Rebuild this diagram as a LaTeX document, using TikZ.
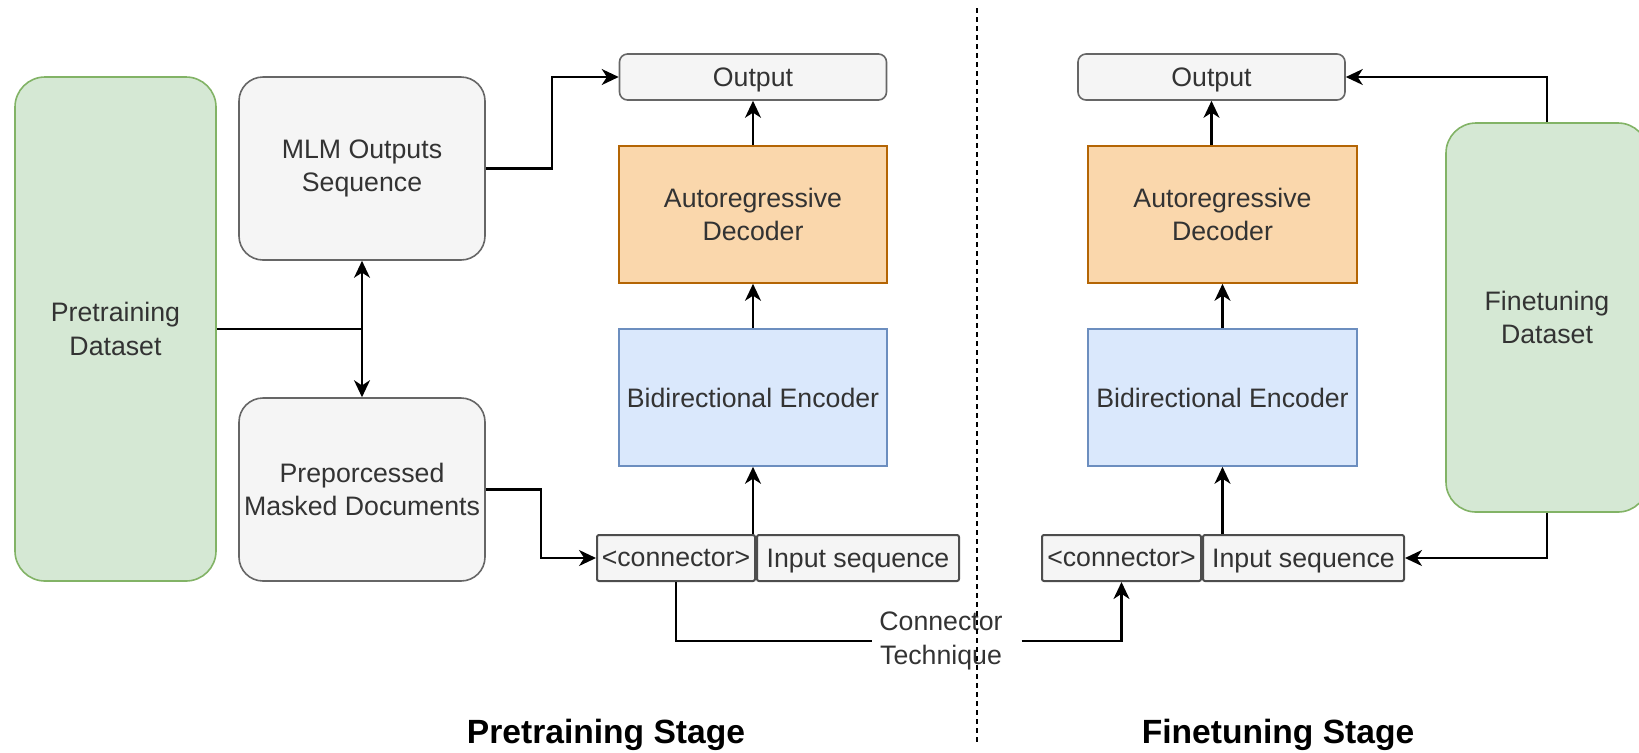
\documentclass[tikz,border=0pt]{standalone}
\usepackage{fontspec}
\setmainfont{Liberation Sans}
\usetikzlibrary{arrows.meta,calc}

\definecolor{greenF}{HTML}{D5E8D4}
\definecolor{greenD}{HTML}{82B366}
\definecolor{greyF}{HTML}{F5F5F5}
\definecolor{greyD}{HTML}{666666}
\definecolor{orangeF}{HTML}{FAD7AC}
\definecolor{orangeD}{HTML}{B46504}
\definecolor{blueF}{HTML}{DAE8FC}
\definecolor{blueD}{HTML}{6C8EBF}
\definecolor{cellD}{HTML}{4D4D4D}
\definecolor{txt}{HTML}{333333}

\newcommand{\lbl}{\fontsize{13.35}{16.7}\selectfont}
\newcommand{\ttl}{\fontsize{16.8}{20}\selectfont\bfseries}
% lower a one-line label a little without changing its box
\newcommand{\lowered}[1]{\raisebox{-1.6pt}[\height][\depth]{#1}}

\tikzset{
  wh/.style 2 args={minimum width=#1*0.5pt, minimum height=#2*0.5pt},
  box/.style={draw, line width=0.8pt, inner sep=0pt, align=center, text=txt, font=\lbl},
  dataset/.style={box, fill=greenF, draw=greenD, rounded corners=15pt},
  greybox/.style={box, fill=greyF, draw=greyD, rounded corners=12pt},
  outbox/.style={box, fill=greyF, draw=greyD, rounded corners=4pt},
  decbox/.style={box, fill=orangeF, draw=orangeD},
  encbox/.style={box, fill=blueF, draw=blueD},
  cell/.style={box, fill=greyF, draw=cellD, line width=1pt, rounded corners=1pt},
  wire/.style={line width=1.05pt, black},
  arrowline/.style={wire, -{Stealth[length=8.5pt,width=8pt,inset=2.6pt]}},
  sepline/.style={line width=0.75pt, dash pattern=on 2.5pt off 2pt},
}

\begin{document}
\begin{tikzpicture}[x=0.5pt,y=-0.5pt]
\useasboundingbox (0,0) rectangle (1639,752);
\clip (0,0) rectangle (1639,752);

% ---------- pretraining stage ----------
\node[dataset, wh={201}{504}] (pds) at (115.5,329) {Pretraining\\Dataset};
\node[greybox, wh={246}{183}] (mlm) at (362,168.5) {MLM Outputs\\Sequence};
\node[greybox, wh={246}{183}] (pre) at (362,489.5) {Preporcessed\\Masked Documents};
\node[outbox, wh={267}{46}] (outL) at (753,77) {\lowered{Output}};
\node[decbox, wh={268}{137}] (decL) at (753,214.5) {Autoregressive\\Decoder};
\node[encbox, wh={268}{137}] (encL) at (753,397.5) {Bidirectional Encoder};
\node[cell, wh={158}{46}] (conL) at (676,558) {<connector>};
\node[cell, wh={202}{46}] (inL) at (858,558) {\lowered{Input sequence}};

\coordinate (jn) at (pds.east -| mlm.south);
\draw[wire] (pds.east) -- (jn);
\draw[arrowline] (jn) -- (mlm.south);
\draw[arrowline] (jn) -- (pre.north);
\draw[arrowline] (mlm.east) -- ++(66,0) |- (outL.west);
\draw[arrowline] (pre.east) -- ++(55,0) |- (conL.west);
\draw[arrowline] (decL.north) -- (outL.south);
\draw[arrowline] (encL.north) -- (decL.south);
\draw[arrowline] (encL.south |- conL.north) -- (encL.south);

% ---------- connector technique ----------
\node[font=\lbl, text=txt, align=center] (tech) at (941,641) {Connector\\Technique};
\coordinate (techR) at ($(tech.east)+(12,0)$);

% ---------- finetuning stage ----------
\node[outbox, wh={267}{46}] (outR) at (1211.5,77) {\lowered{Output}};
\node[decbox, wh={269}{137}] (decR) at (1222.5,214.5) {Autoregressive\\Decoder};
\node[encbox, wh={269}{137}] (encR) at (1222.5,397.5) {Bidirectional Encoder};
\node[cell, wh={159}{46}] (conR) at (1121.5,558) {<connector>};
\node[cell, wh={201}{46}] (inR) at (1303.5,558) {\lowered{Input sequence}};
\node[dataset, wh={202}{389}] (fds) at (1547,317.5) {Finetuning\\Dataset};

\draw[wire] (conL.south) |- (tech.west);
\draw[arrowline] (techR) -| (conR.south);
\draw[arrowline] (fds.north) |- (outR.east);
\draw[arrowline] (fds.south) |- (inR.east);
\draw[arrowline] (decR.north -| outR.south) -- (outR.south);
\draw[arrowline] (encR.north) -- (decR.south);
\draw[arrowline] (encR.south |- inR.north) -- (encR.south);

% ---------- stage divider and titles ----------
\coordinate (sepT) at (977,8);
\coordinate (sepB) at (977,742);
\draw[sepline] (sepT) -- (sepB);

\node[font=\ttl] (tP) at (606,735) {Pretraining Stage};
\node[font=\ttl] (tF) at (1278,735) {Finetuning Stage};
\end{tikzpicture}
\end{document}
